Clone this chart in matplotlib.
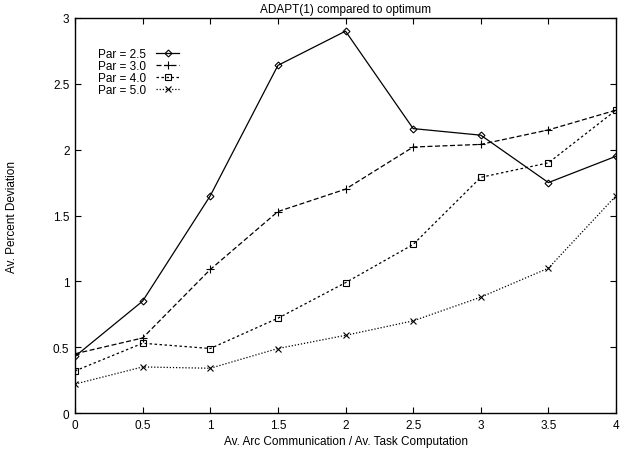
import matplotlib
matplotlib.use("Agg")
import matplotlib.pyplot as plt

plt.rcParams['font.family'] = ['Liberation Sans', 'DejaVu Sans']

x = [0, 0.5, 1, 1.5, 2, 2.5, 3, 3.5, 4]
par25 = [0.43, 0.85, 1.65, 2.64, 2.90, 2.16, 2.11, 1.75, 1.95]
par30 = [0.45, 0.57, 1.09, 1.53, 1.70, 2.02, 2.04, 2.15, 2.30]
par40 = [0.32, 0.53, 0.49, 0.72, 0.99, 1.28, 1.79, 1.90, 2.30]
par50 = [0.22, 0.35, 0.34, 0.49, 0.59, 0.70, 0.88, 1.10, 1.65]

fig = plt.figure(figsize=(6.2, 4.52), dpi=100)
ax = fig.add_axes([0.121, 0.084, 0.8726, 0.874])

lw = 0.9
ax.plot(x, par25, color='black', lw=lw, marker='D', ms=3.5, mfc='none', mew=0.8, label='Par = 2.5')
ax.plot(x, par30, color='black', lw=lw, ls=(0, (4, 2)), marker='+', ms=6, mew=0.8, label='Par = 3.0')
ax.plot(x, par40, color='black', lw=lw, ls=(0, (2, 2)), marker='s', ms=5, mfc='none', mew=0.8, label='Par = 4.0')
ax.plot(x, par50, color='black', lw=lw, ls=(0, (1, 1.5)), marker='x', ms=5, mew=0.8, label='Par = 5.0')

ax.set_xlim(0, 4)
ax.set_ylim(0, 3)
ax.set_xticks([0, 0.5, 1, 1.5, 2, 2.5, 3, 3.5, 4])
ax.set_xticklabels(['0', '0.5', '1', '1.5', '2', '2.5', '3', '3.5', '4'])
ax.set_yticks([0, 0.5, 1, 1.5, 2, 2.5, 3])
ax.set_yticklabels(['0', '0.5', '1', '1.5', '2', '2.5', '3'])
ax.tick_params(direction='in', top=True, right=True, length=4.5, width=0.8, labelsize=8.5, pad=4)
for s in ax.spines.values():
    s.set_linewidth(1.0)

ax.set_title('ADAPT(1) compared to optimum', fontsize=8.5, pad=4)
ax.set_xlabel('Av. Arc Communication / Av. Task Computation', fontsize=8.5, labelpad=3)
ax.set_ylabel('Av. Percent Deviation', fontsize=8.5)
ax.yaxis.set_label_coords(-0.106, 0.5)

ax.legend(loc='upper left', bbox_to_anchor=(0.033, 0.935), frameon=False, markerfirst=False,
          fontsize=8.5, handlelength=2.0, handletextpad=0.85, labelspacing=0.0, borderaxespad=0)

fig.savefig('out.png', dpi=100)
